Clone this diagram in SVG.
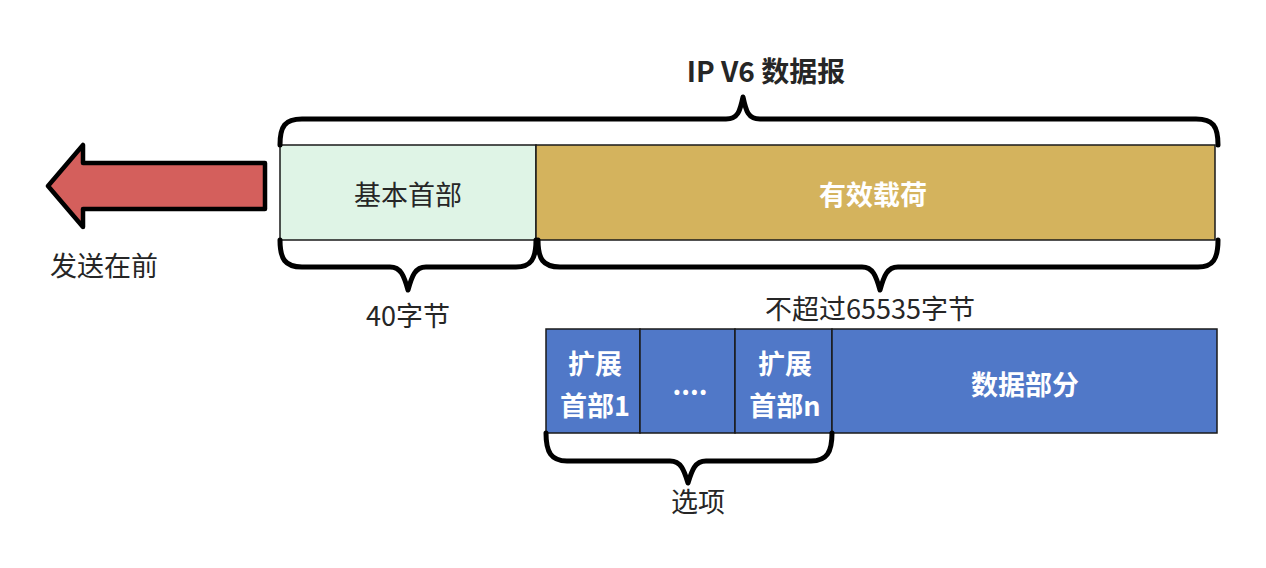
<svg xmlns="http://www.w3.org/2000/svg" width="1266" height="568" viewBox="0 0 1266 568">
  <style>
    text { font-family: "Noto Sans CJK SC", "Noto Sans", sans-serif; text-anchor: middle; dominant-baseline: central; }
    .label { font-size: 27px; fill: #262626; }
    .title { font-size: 28px; font-weight: bold; fill: #262626; }
    .white { font-size: 27px; font-weight: bold; fill: #ffffff; }
    .cell { stroke: #1a1a1a; stroke-width: 1.5; }
    .brace { fill: none; stroke: #000; stroke-width: 5; stroke-linecap: round; stroke-linejoin: round; }
  </style>
  <rect width="1266" height="568" fill="#ffffff"/>

  <text class="title" x="766" y="70">IP V6 数据报</text>

  <g id="arrow">
    <polygon points="48,186 83,145 83,163 265,163 265,209 83,209 83,227" fill="#d45f5c" stroke="#000" stroke-width="4.5" stroke-linejoin="round"/>
    <text class="label" x="104" y="264">发送在前</text>
  </g>

  <g id="header">
    <rect class="cell" x="280" y="145" width="256" height="95" fill="#dff4e6"/>
    <text class="label" x="408" y="193">基本首部</text>
  </g>
  <g id="payload">
    <rect class="cell" x="536" y="145" width="679" height="95" fill="#d4b35d"/>
    <text class="white" x="873" y="193">有效载荷</text>
  </g>

  <g id="ext1">
    <rect class="cell" x="546" y="329" width="94" height="104" fill="#5078c8"/>
    <text class="white" x="595" y="362">扩展</text>
    <text class="white" x="595" y="404">首部1</text>
  </g>
  <g id="ext-more">
    <rect class="cell" x="640" y="329" width="95" height="104" fill="#5078c8"/>
    <text class="white" x="690" y="383">....</text>
  </g>
  <g id="extn">
    <rect class="cell" x="735" y="329" width="97" height="104" fill="#5078c8"/>
    <text class="white" x="785" y="362">扩展</text>
    <text class="white" x="785" y="404">首部n</text>
  </g>
  <g id="data">
    <rect class="cell" x="832" y="329" width="385" height="104" fill="#5078c8"/>
    <text class="white" x="1025" y="383">数据部分</text>
  </g>

  <g id="braces">
    <path class="brace" d="M280,145 C280,126 285,119 302,119 L726,119 C738,119 740,111 743,97 C746,111 748,119 760,119 L1196,119 C1213,119 1218,126 1218,145"/>
    <path class="brace" d="M280,240 C280,259 285,267 302,267 L390,267 C401,267 404,276 408,290 C412,276 415,267 426,267 L516,267 C531,267 536,259 536,240"/>
    <path class="brace" d="M538,240 C538,259 543,267 560,267 L862,267 C873,267 876,276 880,290 C884,276 887,267 898,267 L1198,267 C1213,267 1218,259 1218,240"/>
    <path class="brace" d="M546,433 C546,452 551,461 567,461 L670,461 C681,461 684,470 688,483 C692,470 695,461 706,461 L811,461 C827,461 832,452 832,433"/>
  </g>

  <text class="label" x="408" y="314">40字节</text>
  <text class="label" x="870" y="307">不超过65535字节</text>
  <text class="label" x="698" y="500">选项</text>
</svg>
